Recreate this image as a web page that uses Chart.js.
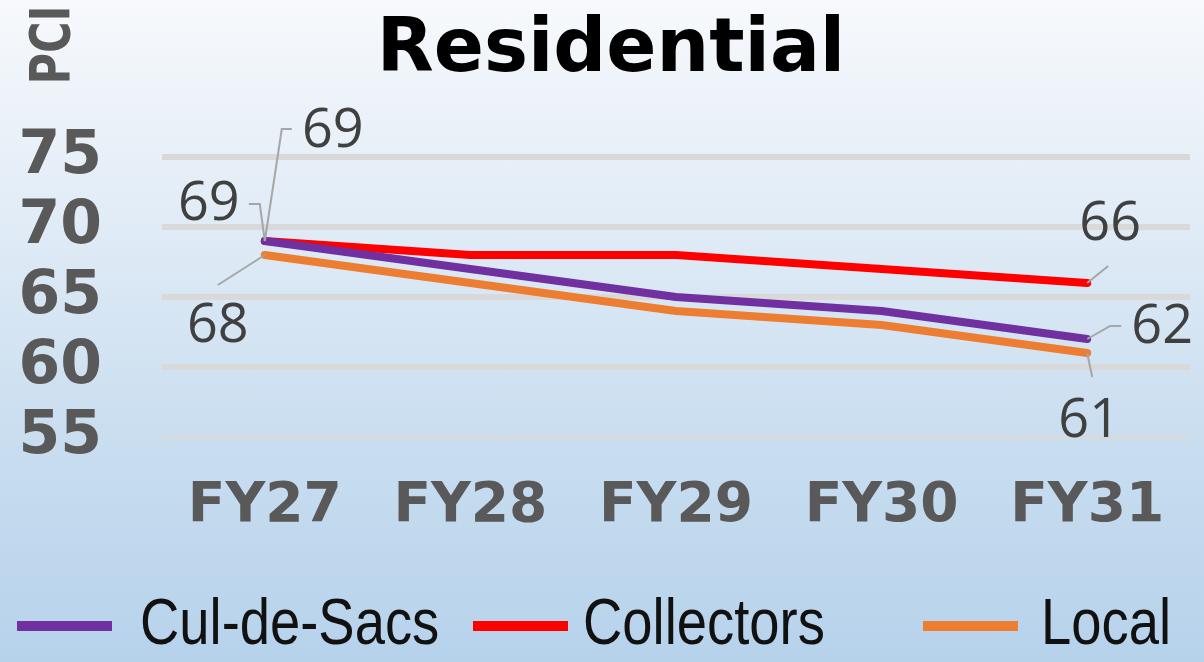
<!DOCTYPE html>
<html>
<head>
<meta charset="utf-8">
<script src="https://cdn.jsdelivr.net/npm/chart.js@4"></script>
<style>
  html, body { margin: 0; padding: 0; overflow: hidden; }
  body { width: 1204px; height: 662px;
    background: linear-gradient(to bottom, #f7f9fc 0%, #e3edf7 30%, #cadef0 65%, #b6d2eb 100%); }
  #wrap { position: relative; width: 1204px; height: 662px; }
</style>
</head>
<body>
<div id="wrap"><canvas id="c"></canvas></div>
<script>
const categories = ['FY27', 'FY28', 'FY29', 'FY30', 'FY31'];
const culDeSacs = [69, 67, 65, 64, 62];
const collectors = [69, 68, 68, 67, 66];
const local = [68, 66, 64, 63, 61];
const yTicks = [55, 60, 65, 70, 75];
const seriesNames = ['Cul-de-Sacs', 'Collectors', 'Local'];
const seriesColors = ['#7030a0', '#ff0000', '#ed7d31'];
const chartTitle = 'Residential';
const axisTitle = 'PCI';

// label placement styles: [datasetIndex, pointIndex, leader path offsets, text offset]
const labelStyles = [
  [1, 0, [[0,0],[17,-112],[27,-112]], [68,-109]],
  [0, 0, [[0,0],[-5,-37],[-16,-37]], [-56,-36]],
  [2, 0, [[0,0],[-47,30]], [-47,72]],
  [1, 4, [[0,0],[21,-17]], [23,-58]],
  [0, 4, [[0,0],[23,-13],[34,-13]], [75,-11]],
  [2, 4, [[0,0],[5,24]], [2,69]]
];
// legend item layout (marker left x), text gap
const legendX = [17, 473, 923];
const legendGap = [28, 15, 23];

const dataLabelPlugin = {
  id: 'dataLabels',
  afterDatasetsDraw(chart) {
    const ctx = chart.ctx;
    ctx.save();
    labelStyles.forEach(([di, pi, path, off]) => {
      const pt = chart.getDatasetMeta(di).data[pi];
      const v = chart.data.datasets[di].data[pi];
      ctx.strokeStyle = '#a6a6a6';
      ctx.lineWidth = 2;
      ctx.beginPath();
      path.forEach(([dx, dy], k) => {
        if (k === 0) ctx.moveTo(pt.x + dx, pt.y + dy); else ctx.lineTo(pt.x + dx, pt.y + dy);
      });
      ctx.stroke();
      ctx.fillStyle = '#404040';
      ctx.font = '54px "Open Sans", "Noto Sans", sans-serif';
      ctx.textAlign = 'center';
      ctx.textBaseline = 'middle';
      ctx.fillText(String(v), pt.x + off[0], pt.y + off[1]);
    });
    ctx.restore();
  }
};

const legendPlugin = {
  id: 'narrowLegend',
  afterDraw(chart) {
    const ctx = chart.ctx;
    ctx.save();
    const y = 626;
    chart.data.datasets.forEach((ds, i) => {
      const x0 = legendX[i];
      ctx.fillStyle = ds.borderColor;
      ctx.fillRect(x0, y - 5, 95, 10);
      ctx.save();
      ctx.translate(x0 + 95 + legendGap[i], y);
      ctx.scale(0.85, 1);
      ctx.fillStyle = '#111111';
      ctx.font = '64px "Liberation Sans", Arial, sans-serif';
      ctx.textAlign = 'left';
      ctx.textBaseline = 'middle';
      ctx.fillText(ds.label, 0, 0);
      ctx.restore();
    });
    ctx.restore();
  }
};

const titlePlugin = {
  id: 'titles',
  afterDraw(chart) {
    const ctx = chart.ctx;
    ctx.save();
    ctx.fillStyle = '#000000';
    ctx.font = 'bold 74px "DejaVu Sans", sans-serif';
    ctx.textAlign = 'center';
    ctx.textBaseline = 'middle';
    ctx.fillText(chartTitle, 611, 52);
    ctx.restore();

    ctx.save();
    ctx.translate(54, 45);
    ctx.scale(1.3, 1);
    ctx.rotate(-Math.PI / 2);
    ctx.fillStyle = '#595959';
    ctx.font = 'bold 43px "DejaVu Sans", sans-serif';
    ctx.textAlign = 'center';
    ctx.textBaseline = 'middle';
    ctx.fillText(axisTitle, 0, 0);
    ctx.restore();
  }
};

const seriesData = [culDeSacs, collectors, local];

new Chart(document.getElementById('c'), {
  type: 'line',
  data: {
    labels: categories,
    datasets: seriesNames.map((name, i) => ({
      label: name,
      data: seriesData[i],
      borderColor: seriesColors[i],
      backgroundColor: seriesColors[i],
      borderWidth: 8,
      borderCapStyle: 'round',
      borderJoinStyle: 'round',
      pointRadius: 0,
      pointHoverRadius: 0,
      tension: 0
    }))
  },
  options: {
    responsive: true,
    maintainAspectRatio: false,
    animation: false,
    layout: { padding: { left: 0, right: 14, top: 157, bottom: 117 } },
    plugins: {
      tooltip: { enabled: false },
      legend: { display: false },
      title: { display: false }
    },
    scales: {
      x: {
        offset: true,
        grid: { display: false, drawTicks: false },
        border: { display: false },
        ticks: {
          color: '#595959',
          padding: 37,
          font: { family: '"DejaVu Sans", sans-serif', size: 55, weight: 'bold' }
        },
        afterFit(scale) { scale.height = 108; }
      },
      y: {
        min: 55,
        max: 75,
        afterBuildTicks(scale) { scale.ticks = yTicks.map(v => ({ value: v })); },
        grid: {
          color: '#d9d9d9',
          lineWidth: (c) => (c.tick && c.tick.value === 55 ? 3 : 6),
          drawTicks: false
        },
        border: { display: false },
        ticks: {
          autoSkip: false,
          color: '#595959',
          padding: 60,
          font: { family: '"DejaVu Sans", sans-serif', size: 60, weight: 'bold' }
        },
        afterFit(scale) { scale.width = 162; }
      }
    }
  },
  plugins: [dataLabelPlugin, legendPlugin, titlePlugin]
});
</script>
</body>
</html>
